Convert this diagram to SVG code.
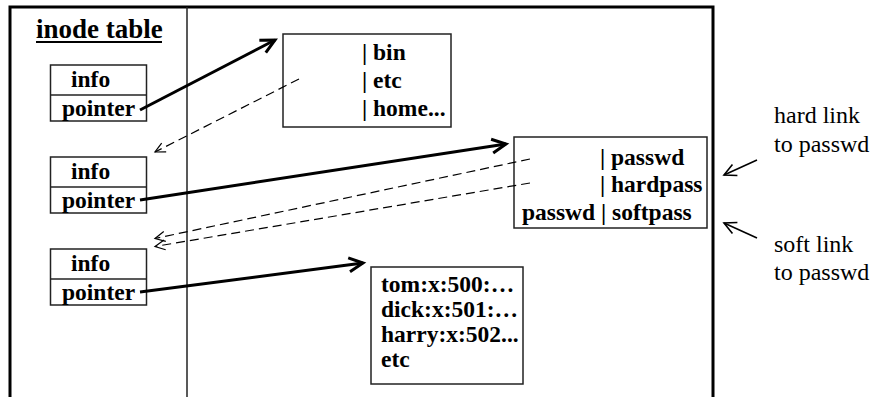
<svg xmlns="http://www.w3.org/2000/svg" width="875" height="397" viewBox="0 0 875 397">
<defs>
<style>
text{font-family:"Liberation Serif","Times New Roman",serif;fill:#000}
.t{font-weight:bold;font-size:23.5px}
.r{font-weight:normal;font-size:24px}
.box{fill:#fff;stroke:#222;stroke-width:1.5}
.thick{stroke:#000;stroke-width:3;fill:none}
.dash{stroke:#000;stroke-width:1.2;fill:none;stroke-dasharray:9,5}
.thin{stroke:#000;stroke-width:1.6;fill:none}
</style>
<marker id="big" viewBox="-16 -10 20 20" refX="0" refY="0" markerWidth="20" markerHeight="20" markerUnits="userSpaceOnUse" orient="auto">
<path d="M-14,-7 L0,0 L-14,7" fill="none" stroke="#000" stroke-width="3"/>
</marker>
<marker id="small" viewBox="-12 -8 14 16" refX="0" refY="0" markerWidth="14" markerHeight="16" markerUnits="userSpaceOnUse" orient="auto">
<path d="M-10,-5 L0,0 L-10,5" fill="none" stroke="#000" stroke-width="1.2"/>
</marker>
<marker id="mid" viewBox="-14 -9 16 18" refX="0" refY="0" markerWidth="16" markerHeight="18" markerUnits="userSpaceOnUse" orient="auto">
<path d="M-12,-6 L0,0 L-12,6" fill="none" stroke="#000" stroke-width="1.6"/>
</marker>
</defs>
<rect width="875" height="397" fill="#fff"/>
<g id="frame">
<path d="M10,397 V7 H713 V397" fill="none" stroke="#000" stroke-width="3"/>
<line x1="187" y1="7" x2="187" y2="397" stroke="#222" stroke-width="1.5"/>
<text class="t" x="36" y="38" style="font-size:27px">inode table</text>
<line x1="36" y1="42" x2="162" y2="42" stroke="#000" stroke-width="2"/>
</g>
<g id="inode1">
<rect class="box" x="50.5" y="65" width="96" height="56"/>
<line x1="50.5" y1="95" x2="146.5" y2="95" stroke="#222" stroke-width="1.5"/>
<text class="t" x="71" y="87">info</text>
<text class="t" x="62" y="116">pointer</text>
</g>
<g id="inode2">
<rect class="box" x="50.5" y="157" width="96" height="56"/>
<line x1="50.5" y1="187" x2="146.5" y2="187" stroke="#222" stroke-width="1.5"/>
<text class="t" x="71" y="179">info</text>
<text class="t" x="62" y="208">pointer</text>
</g>
<g id="inode3">
<rect class="box" x="50.5" y="249" width="96" height="56"/>
<line x1="50.5" y1="279" x2="146.5" y2="279" stroke="#222" stroke-width="1.5"/>
<text class="t" x="71" y="271">info</text>
<text class="t" x="62" y="300">pointer</text>
</g>
<g id="rootdir">
<rect class="box" x="283" y="34" width="168" height="93"/>
<text class="t" x="362" y="60">| bin</text>
<text class="t" x="362" y="88">| etc</text>
<text class="t" x="362" y="116">| home...</text>
</g>
<g id="etcdir">
<rect class="box" x="514" y="137" width="193" height="91"/>
<text class="t" x="600" y="165">| passwd</text>
<text class="t" x="600" y="192">| hardpass</text>
<text class="t" x="522" y="220">passwd | softpass</text>
</g>
<g id="passwdfile">
<rect class="box" x="371" y="267" width="152" height="117"/>
<text class="t" x="381" y="292">tom:x:500:…</text>
<text class="t" x="381" y="317">dick:x:501:…</text>
<text class="t" x="381" y="342">harry:x:502...</text>
<text class="t" x="381" y="367">etc</text>
</g>
<g id="labels">
<text class="r" x="774" y="123">hard link</text>
<text class="r" x="774" y="152">to passwd</text>
<text class="r" x="774" y="252">soft link</text>
<text class="r" x="774" y="280">to passwd</text>
</g>
<g id="connectors">
<line class="thick" x1="140" y1="110" x2="275" y2="40" marker-end="url(#big)"/>
<line class="thick" x1="140" y1="200" x2="506" y2="144" marker-end="url(#big)"/>
<line class="thick" x1="140" y1="292" x2="363" y2="263" marker-end="url(#big)"/>
<line class="dash" x1="299" y1="79" x2="155" y2="152" marker-end="url(#small)"/>
<line class="dash" x1="530" y1="159" x2="155" y2="238.5" marker-end="url(#small)"/>
<line class="dash" x1="530" y1="183" x2="155" y2="246.5" marker-end="url(#small)"/>
<line class="thin" x1="757" y1="160" x2="724" y2="175" marker-end="url(#mid)"/>
<line class="thin" x1="757" y1="238" x2="724" y2="223" marker-end="url(#mid)"/>
</g>
</svg>
